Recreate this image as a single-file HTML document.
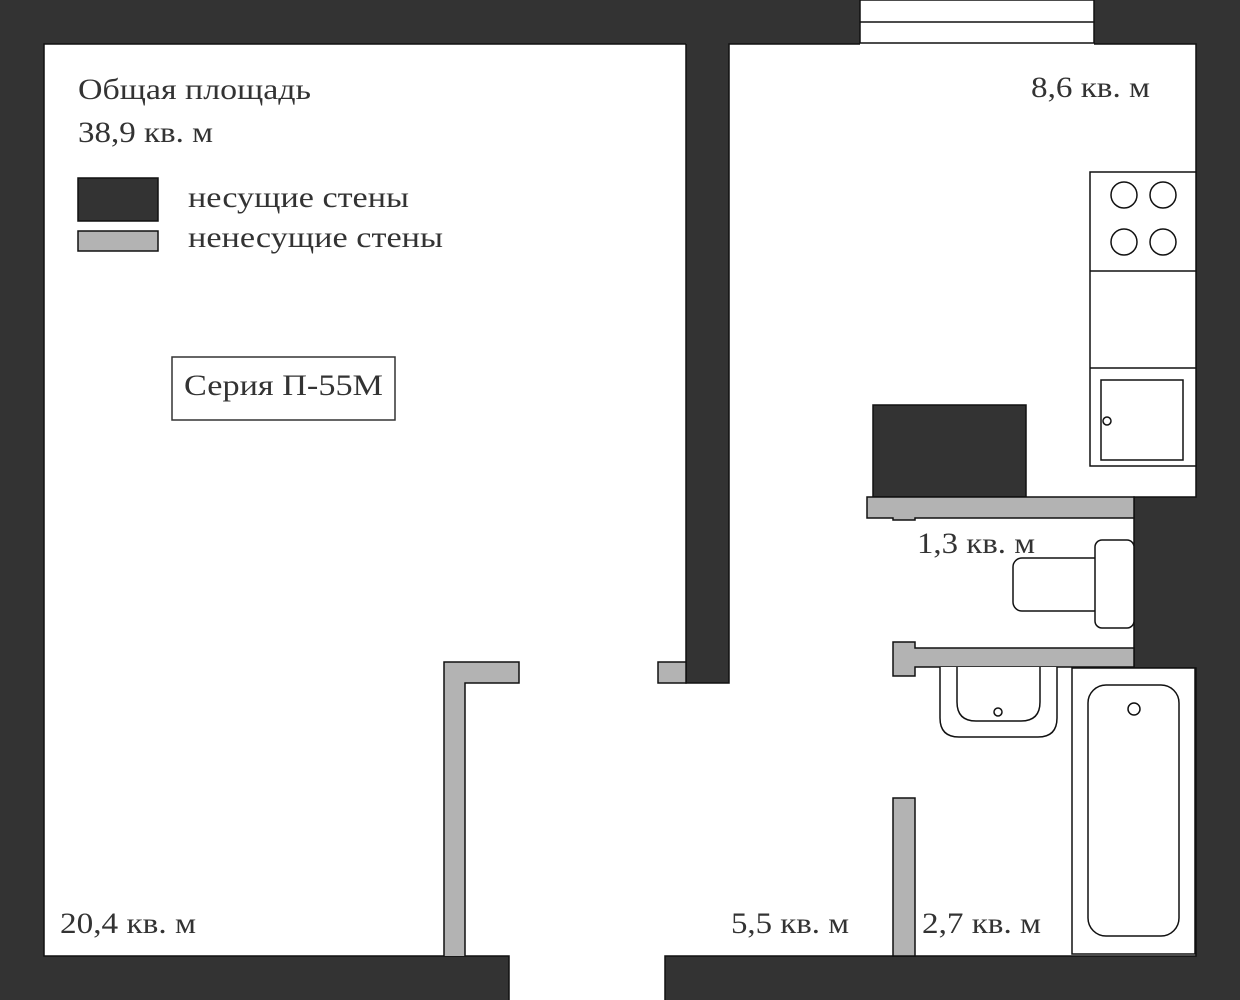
<!DOCTYPE html>
<html><head><meta charset="utf-8"><style>html,body{margin:0;padding:0;background:#fff}svg{display:block}text{font-family:"Liberation Serif",serif;fill:#333;font-size:30px}</style></head><body>
<svg width="1240" height="1000" viewBox="0 0 1240 1000" xmlns="http://www.w3.org/2000/svg">
<g fill="#333">
<rect x="0" y="0" width="860" height="44"/>
<rect x="1094" y="0" width="146" height="44"/>
<rect x="0" y="0" width="44" height="1000"/>
<rect x="1196" y="0" width="44" height="1000"/>
<rect x="0" y="956" width="509" height="44"/>
<rect x="665" y="956" width="575" height="44"/>
<rect x="686" y="0" width="43" height="683"/>
<rect x="1134" y="497" width="62" height="171"/>
</g>
<g fill="none" stroke="#111" stroke-width="1.5">
<polyline points="686,44 44,44 44,956 509,956 509,1000"/>
<polyline points="686,44 686,683 729,683 729,44 860,44"/>
<polyline points="1094,44 1196,44 1196,497 1134,497 1134,668 1196,668 1196,956 665,956 665,1000"/>
</g>
<rect x="873" y="405" width="153" height="92" fill="#333" stroke="#111" stroke-width="1.5"/>
<g fill="#fff" stroke="#111" stroke-width="1.5">
<rect x="860" y="0" width="234" height="43"/><line x1="860" y1="22" x2="1094" y2="22"/>
</g>
<g fill="#b3b3b3" stroke="#111" stroke-width="1.5">
<path d="M444 956 V662 H519 V683 H465 V956"/>
<rect x="658" y="662" width="28" height="21"/>
<path d="M867 497 H1134 V518 H915 V520 H893 V518 H867 Z"/>
<path d="M893 642 H915 V648 H1134 V667 H915 V676 H893 Z"/>
<rect x="893" y="798" width="22" height="158"/>
</g>
<g fill="#fff" stroke="#111" stroke-width="1.5">
<rect x="1090" y="172" width="106" height="294"/>
<line x1="1090" y1="271" x2="1196" y2="271"/><line x1="1090" y1="368" x2="1196" y2="368"/>
<circle cx="1124" cy="195" r="13"/><circle cx="1163" cy="195" r="13"/><circle cx="1124" cy="242" r="13"/><circle cx="1163" cy="242" r="13"/>
<rect x="1101" y="380" width="82" height="80"/><circle cx="1107" cy="421" r="4"/>
<rect x="1013" y="558" width="90" height="53" rx="9"/>
<rect x="1095" y="540" width="39" height="88" rx="7"/>
<path d="M940 667 V718 Q940 737 959 737 H1038 Q1057 737 1057 718 V667"/>
<path d="M957 667 V702 Q957 721 976 721 H1021 Q1040 721 1040 702 V667"/>
<circle cx="998" cy="712" r="4"/>
<rect x="1072" y="668" width="123" height="286"/>
<rect x="1088" y="685" width="91" height="251" rx="18"/>
<circle cx="1134" cy="709" r="6"/>
</g>
<text x="78" y="99" textLength="233" lengthAdjust="spacingAndGlyphs">Общая площадь</text>
<text x="78" y="142" textLength="135" lengthAdjust="spacingAndGlyphs">38,9 кв. м</text>
<rect x="78" y="178" width="80" height="43" fill="#333" stroke="#111" stroke-width="1.5"/>
<rect x="78" y="231" width="80" height="20" fill="#b3b3b3" stroke="#111" stroke-width="1.5"/>
<text x="188" y="207" textLength="221" lengthAdjust="spacingAndGlyphs">несущие стены</text>
<text x="188" y="247" textLength="255" lengthAdjust="spacingAndGlyphs">ненесущие стены</text>
<rect x="172" y="357" width="223" height="63" fill="none" stroke="#333" stroke-width="1.5"/>
<text x="184" y="395" textLength="199" lengthAdjust="spacingAndGlyphs">Серия П-55М</text>
<text x="1031" y="97" textLength="119" lengthAdjust="spacingAndGlyphs">8,6 кв. м</text>
<text x="917" y="553" textLength="118" lengthAdjust="spacingAndGlyphs">1,3 кв. м</text>
<text x="60" y="933" textLength="136" lengthAdjust="spacingAndGlyphs">20,4 кв. м</text>
<text x="731" y="933" textLength="118" lengthAdjust="spacingAndGlyphs">5,5 кв. м</text>
<text x="922" y="933" textLength="119" lengthAdjust="spacingAndGlyphs">2,7 кв. м</text>
</svg>
</body></html>
